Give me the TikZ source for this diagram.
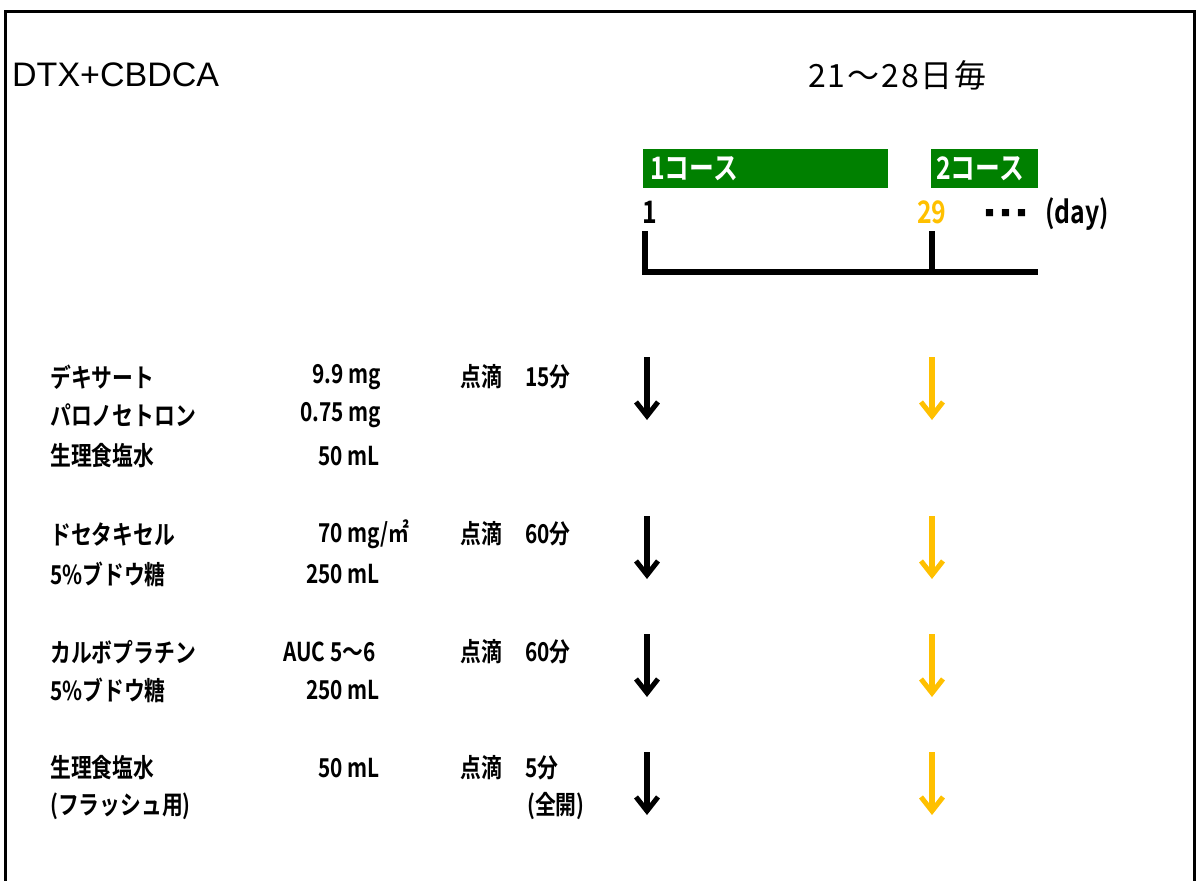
\documentclass[tikz,border=0pt]{standalone}
\usepackage{fontspec}
\setmainfont{Liberation Sans}
\newfontfamily\jpfont{Noto Sans CJK JP}
\newfontfamily\jpnarrow[FakeStretch=0.8,UprightFont=* Bold]{Noto Sans CJK JP}
\usepackage{tikz}
\usetikzlibrary{arrows, arrows.meta, positioning}
\definecolor{CourseGreen}{RGB}{0,128,0}
\definecolor{NextGold}{RGB}{255,192,0}
\tikzstyle{drug} = [anchor=west, inner sep=0pt, font=\jpnarrow\fontsize{26}{26}\selectfont]
\tikzstyle{course} = [anchor=north west, fill=CourseGreen, text=white, align=left, minimum height=39pt, inner ysep=0pt, font=\jpnarrow\fontsize{31}{31}\selectfont]
\tikzstyle{daylabel} = [anchor=west, inner sep=0pt, font=\jpnarrow\fontsize{31}{31}\selectfont]
\tikzstyle{axis} = [line width=6pt]
\tikzstyle{give} = [line width=6pt, -{Straight Barb[length=14pt,width=22pt,line width=5pt]}]

\begin{document}
\begin{tikzpicture}[x=1pt, y=-1pt]
  \useasboundingbox (0,0) rectangle (1197,881);
  \draw[line width=3pt] (5.5,881) -- (5.5,11.5) -- (1194.5,11.5) -- (1194.5,881);

  \node (regimen) [anchor=west, inner sep=0pt, font=\fontsize{34}{34}\selectfont] at (12,75) {DTX+CBDCA};
  \node (cycle) [anchor=west, inner sep=0pt, font=\jpfont\addfontfeature{LetterSpace=6}\fontsize{32}{32}\selectfont] at (808,75) {21〜28日毎};

  % course bars and day axis
  \node (course1) [course, text width=231pt, inner xsep=7pt] at (643,149) {1コース};
  \node (course2) [course, text width=97pt, inner xsep=5pt] at (931,149) {2コース};
  \node (dayone) [daylabel] at (642,212) {1};
  \node (daytwentynine) [daylabel, text=NextGold] at (917,212) {29};
  \node (dots) [anchor=west, inner sep=0pt, font=\jpfont\fontsize{9}{9}\selectfont] at (985,213) {■\hspace{7pt}■\hspace{7pt}■};
  \node (dayunit) [daylabel] at (1045,214) {(day)};

  \coordinate (tick1) at (645,231);
  \coordinate (base1) at (645,272);
  \coordinate (tick29) at (932,231);
  \coordinate (base29) at (932,272);
  \coordinate (axisend) at (1038,272);
  \draw [axis] (tick1) -- (base1) -- (axisend);
  \draw [axis] (tick29) -- (base29);

  % premedication
  \node (dexart) [drug] at (50,377) {デキサート};
  \node (palono) [drug] at (50,415) {パロノセトロン};
  \node (saline1) [drug] at (50,456) {生理食塩水};
  \node (dexdose) [drug] at (312,377) {9.9 mg};
  \node (palodose) [drug] at (300,415) {0.75 mg};
  \node (saldose1) [drug] at (318,456) {50 mL};
  \node (drip1) [drug] at (460,377) {点滴};
  \node (time1) [drug] at (525,377) {15分};

  % docetaxel
  \node (docetaxel) [drug] at (50,534) {ドセタキセル};
  \node (glucose1) [drug] at (50,574) {5\%ブドウ糖};
  \node (docedose) [drug] at (318,534) {70 mg/㎡};
  \node (glucdose1) [drug] at (306,574) {250 mL};
  \node (drip2) [drug] at (460,534) {点滴};
  \node (time2) [drug] at (525,534) {60分};

  % carboplatin
  \node (carbo) [drug] at (50,652) {カルボプラチン};
  \node (glucose2) [drug] at (50,690) {5\%ブドウ糖};
  \node (carbodose) [drug] at (283,652) {AUC 5〜6};
  \node (glucdose2) [drug] at (306,690) {250 mL};
  \node (drip3) [drug] at (460,652) {点滴};
  \node (time3) [drug] at (525,652) {60分};

  % flush
  \node (saline2) [drug] at (50,768) {生理食塩水};
  \node (flush) [drug] at (50,806) {(フラッシュ用)};
  \node (saldose2) [drug] at (318,768) {50 mL};
  \node (drip4) [drug] at (460,768) {点滴};
  \node (time4) [drug] at (525,768) {5分};
  \node (fullopen) [drug] at (527,806) {(全開)};

  \coordinate (d1a) at (647,357);  \coordinate (d1b) at (647,420);
  \coordinate (d2a) at (647,516);  \coordinate (d2b) at (647,579);
  \coordinate (d3a) at (647,634);  \coordinate (d3b) at (647,697);
  \coordinate (d4a) at (647,752);  \coordinate (d4b) at (647,815);
  \coordinate (n1a) at (932,357);  \coordinate (n1b) at (932,420);
  \coordinate (n2a) at (932,516);  \coordinate (n2b) at (932,579);
  \coordinate (n3a) at (932,634);  \coordinate (n3b) at (932,697);
  \coordinate (n4a) at (932,752);  \coordinate (n4b) at (932,815);

  \draw [give] (d1a) -- (d1b);
  \draw [give] (d2a) -- (d2b);
  \draw [give] (d3a) -- (d3b);
  \draw [give] (d4a) -- (d4b);
  \draw [give, NextGold] (n1a) -- (n1b);
  \draw [give, NextGold] (n2a) -- (n2b);
  \draw [give, NextGold] (n3a) -- (n3b);
  \draw [give, NextGold] (n4a) -- (n4b);

\end{tikzpicture}
\end{document}
